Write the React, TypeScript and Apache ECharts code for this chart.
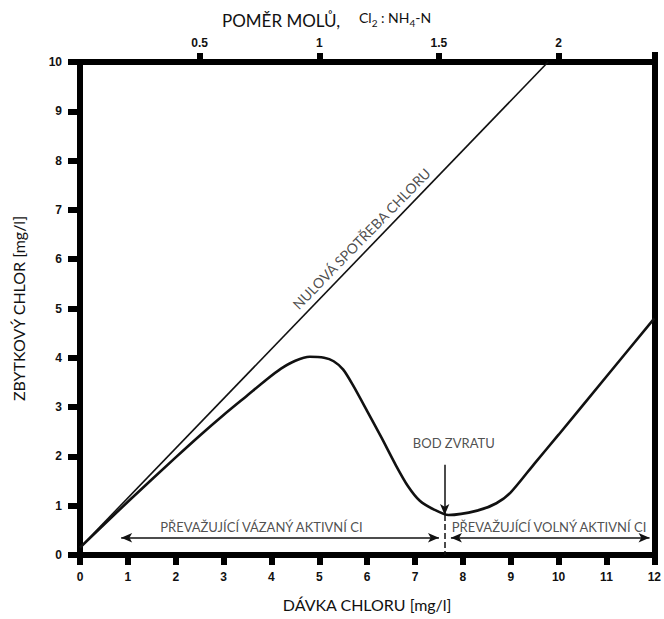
import React, { useEffect, useRef } from "react";
import * as echarts from "echarts";

// Dose of chlorine (mg/l) vs residual chlorine (mg/l)
const zeroDemandLine: [number, number][] = [
  [0, 0.15],
  [9.78, 10],
];

const breakpointCurve: [number, number][] = [
  [0, 0.15],
  [1, 1.08],
  [2, 1.98],
  [2.5, 2.42],
  [3, 2.84],
  [3.5, 3.24],
  [3.9, 3.56],
  [4.2, 3.78],
  [4.5, 3.94],
  [4.8, 4.02],
  [5.1, 4.0],
  [5.3, 3.93],
  [5.5, 3.76],
  [5.7, 3.45],
  [6.0, 2.92],
  [6.3, 2.38],
  [6.6, 1.82],
  [6.85, 1.4],
  [7.1, 1.1],
  [7.4, 0.92],
  [7.7, 0.81],
  [8.3, 0.9],
  [8.7, 1.05],
  [9.0, 1.27],
  [9.5, 1.86],
  [10, 2.44],
  [11, 3.62],
  [12, 4.8],
];

const topTickValues = [0.5, 1, 1.5, 2];

const breakpointDose = 7.62;
const breakpointValue = 0.81;
const arrowLevel = 0.35;
const boundArrow: [number, number] = [0.86, 7.5];
const freeArrow: [number, number] = [7.75, 11.9];

const annotations = [
  { text: "NULOVÁ SPOTŘEBA CHLORU", value: [5.88, 6.42], rotate: 45.7, size: 14 },
  { text: "BOD ZVRATU", value: [7.81, 2.27], rotate: 0, size: 13 },
  { text: "PŘEVAŽUJÍCÍ VÁZANÝ AKTIVNÍ CI", value: [3.79, 0.57], rotate: 0, size: 13 },
  { text: "PŘEVAŽUJÍCÍ VOLNÝ AKTIVNÍ CI", value: [9.8, 0.57], rotate: 0, size: 13 },
];

const TICK_FONT = "'Liberation Sans Narrow', 'Liberation Sans', Arial, sans-serif";
const TEXT_FONT = "Lato, 'Open Sans', sans-serif";

export default function App() {
  const ref = useRef<HTMLDivElement>(null);

  useEffect(() => {
    document.body.style.margin = "0";
    if (!ref.current) return;
    const chart = echarts.init(ref.current, undefined, { renderer: "svg" });

    const tickLabel = {
      fontFamily: TICK_FONT,
      fontWeight: "bold" as const,
      fontSize: 12,
      color: "#111",
    };
    const axisLine = { show: true, onZero: false, lineStyle: { color: "#000", width: 6 } };

    chart.setOption({
      animation: false,
      backgroundColor: "#fff",
      grid: { left: 80, right: 9, top: 62, bottom: 64, containLabel: false },
      xAxis: [
        {
          type: "value",
          min: 0,
          max: 12,
          interval: 1,
          position: "bottom",
          axisLine,
          axisTick: { show: true, length: 10, lineStyle: { color: "#000", width: 6 } },
          axisLabel: { ...tickLabel, margin: 16 },
          splitLine: { show: false },
          name: "DÁVKA CHLORU [mg/l]",
          nameLocation: "middle",
          nameGap: 41,
          nameTextStyle: { fontFamily: TEXT_FONT, fontSize: 16, color: "#111" },
        },
        {
          type: "value",
          min: 0,
          max: 2.4,
          interval: 0.5,
          position: "top",
          axisLine,
          axisTick: {
            show: true,
            length: 9,
            customValues: topTickValues,
            lineStyle: { color: "#000", width: 6 },
          },
          axisLabel: { ...tickLabel, margin: 13, customValues: topTickValues },
          splitLine: { show: false },
        },
      ],
      yAxis: [
        {
          type: "value",
          min: 0,
          max: 10,
          interval: 1,
          position: "left",
          axisLine,
          axisTick: { show: true, length: 12, lineStyle: { color: "#000", width: 6 } },
          axisLabel: { ...tickLabel, margin: 18 },
          splitLine: { show: false },
          name: "ZBYTKOVÝ CHLOR [mg/l]",
          nameLocation: "middle",
          nameGap: 54,
          nameTextStyle: { fontFamily: TEXT_FONT, fontSize: 16, color: "#111" },
        },
        {
          type: "value",
          min: 0,
          max: 10,
          interval: 1,
          position: "right",
          axisLine,
          axisTick: { show: false },
          axisLabel: { show: false },
          splitLine: { show: false },
        },
      ],
      series: [
        {
          type: "line",
          name: "NULOVÁ SPOTŘEBA CHLORU",
          data: zeroDemandLine,
          symbol: "none",
          lineStyle: { color: "#111", width: 1.6 },
          silent: true,
        },
        {
          type: "line",
          name: "Zbytkový chlor",
          data: breakpointCurve,
          symbol: "none",
          smooth: 0.25,
          lineStyle: { color: "#111", width: 2.6 },
          silent: true,
          markLine: {
            silent: true,
            label: { show: false },
            symbolSize: [7, 11],
            lineStyle: { color: "#111", width: 1.5, type: "solid" },
            data: [
              [
                { coord: [boundArrow[0], arrowLevel], symbol: "arrow" },
                { coord: [boundArrow[1], arrowLevel], symbol: "arrow" },
              ],
              [
                { coord: [freeArrow[0], arrowLevel], symbol: "arrow" },
                { coord: [freeArrow[1], arrowLevel], symbol: "arrow" },
              ],
              [
                { coord: [breakpointDose, 1.83], symbol: "none" },
                { coord: [breakpointDose, breakpointValue], symbol: "arrow" },
              ],
              [
                {
                  coord: [breakpointDose, breakpointValue],
                  symbol: "none",
                  lineStyle: { type: [6, 3], width: 1.5, color: "#111" },
                },
                { coord: [breakpointDose, 0], symbol: "none" },
              ],
            ],
          },
        },
        {
          type: "scatter",
          symbolSize: 0,
          silent: true,
          data: annotations.map((a) => ({
            value: a.value,
            label: {
              show: true,
              position: "inside",
              formatter: a.text,
              rotate: a.rotate,
              fontFamily: TEXT_FONT,
              fontSize: a.size,
              color: "#222",
            },
          })),
        },
      ],
      graphic: [
        {
          type: "text",
          x: 281,
          y: 20,
          style: {
            text: "POMĚR MOLŮ,",
            fontFamily: TEXT_FONT,
            fontSize: 17,
            fill: "#111",
            align: "center",
            verticalAlign: "middle",
          },
        },
        {
          type: "text",
          x: 359,
          y: 17,
          style: {
            text: "{b|Cl}{s|2}{b| : NH}{s|4}{b|-N}",
            fill: "#111",
            align: "left",
            verticalAlign: "middle",
            rich: {
              b: { fontFamily: TEXT_FONT, fontSize: 14, lineHeight: 22, verticalAlign: "middle", fill: "#111" },
              s: { fontFamily: TEXT_FONT, fontSize: 10, lineHeight: 10, verticalAlign: "bottom", fill: "#111" },
            },
          },
        },
        {
          type: "line",
          shape: { x1: 655, y1: 52, x2: 655, y2: 62 },
          style: { stroke: "#000", lineWidth: 6 },
        },
      ],
    });

    return () => chart.dispose();
  }, []);

  return <div ref={ref} style={{ width: 664, height: 619 }} />;
}
